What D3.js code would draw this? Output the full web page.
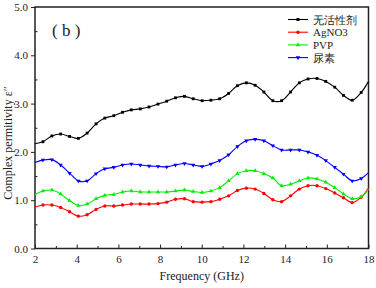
<!DOCTYPE html>
<html>
<head>
<meta charset="utf-8">
<script src="https://cdn.jsdelivr.net/npm/d3@7/dist/d3.min.js"></script>
<style>
  body { margin: 0; background: #fff; }
  svg text { font-family: "Times New Roman", "Liberation Serif", "DejaVu Serif", serif; fill: #222; }
</style>
</head>
<body>
<svg id="chart" width="376" height="288"></svg>
<script>
// frequency points (GHz)
var freq = [2, 2.38, 2.81, 3.23, 3.66, 4.08, 4.50, 4.93, 5.35, 5.78, 6.20, 6.62, 7.05, 7.47,
  7.90, 8.32, 8.74, 9.17, 9.59, 10.02, 10.44, 10.86, 11.29, 11.71, 12.14, 12.56, 12.98,
  13.41, 13.83, 14.26, 14.68, 15.10, 15.53, 15.95, 16.38, 16.80, 17.22, 17.65, 18]

var noSurfactant = [2.17, 2.21, 2.33, 2.37, 2.32, 2.28, 2.39, 2.58, 2.70, 2.75, 2.82, 2.87, 2.89, 2.93,
  2.99, 3.05, 3.12, 3.15, 3.10, 3.06, 3.07, 3.10, 3.21, 3.37, 3.43, 3.38, 3.24,
  3.06, 3.06, 3.24, 3.43, 3.51, 3.52, 3.46, 3.34, 3.17, 3.07, 3.23, 3.46]
var agno3 = [0.86, 0.90, 0.90, 0.85, 0.76, 0.67, 0.70, 0.81, 0.88, 0.88, 0.90, 0.92, 0.92, 0.92,
  0.93, 0.96, 1.02, 1.03, 0.97, 0.96, 0.97, 1.02, 1.09, 1.20, 1.25, 1.23, 1.14,
  1.01, 0.97, 1.09, 1.23, 1.30, 1.30, 1.24, 1.15, 1.05, 0.95, 1.06, 1.25]
var pvp = [1.12, 1.19, 1.21, 1.13, 0.99, 0.89, 0.92, 1.03, 1.10, 1.12, 1.17, 1.19, 1.17, 1.17,
  1.17, 1.17, 1.19, 1.21, 1.18, 1.16, 1.19, 1.26, 1.40, 1.55, 1.61, 1.61, 1.55,
  1.46, 1.30, 1.33, 1.40, 1.46, 1.44, 1.37, 1.26, 1.13, 1.03, 1.07, 1.23]
var urea = [1.78, 1.83, 1.84, 1.73, 1.56, 1.40, 1.40, 1.55, 1.65, 1.68, 1.73, 1.75, 1.73, 1.71,
  1.70, 1.69, 1.73, 1.76, 1.73, 1.70, 1.75, 1.82, 1.94, 2.11, 2.23, 2.26, 2.23,
  2.13, 2.04, 2.04, 2.04, 2.00, 1.93, 1.82, 1.68, 1.54, 1.40, 1.45, 1.57]

var seriesNames = ['无活性剂', 'AgNO3', 'PVP', '尿素']
var seriesColors = ['#000000', '#ff0000', '#00ee00', '#0000ff']
var seriesSymbols = [d3.symbolSquare, d3.symbolCircle, d3.symbolTriangle, d3.symbolTriangle]
var xTicks = [2, 4, 6, 8, 10, 12, 14, 16, 18]
var yTicks = [0, 1, 2, 3, 4, 5]

var allSeries = [noSurfactant, agno3, pvp, urea]

var serif = '"Times New Roman", "Liberation Serif", "DejaVu Serif", serif'
var margin = {left: 35, right: 7.5, top: 7, bottom: 39.5}
var width = 376, height = 288

var svg = d3.select('#chart')

var x = d3.scaleLinear().domain([2, 18]).range([margin.left, width - margin.right])
var y = d3.scaleLinear().domain([0, 5]).range([height - margin.bottom, margin.top])

// minor ticks
svg.append('g')
  .attr('transform', 'translate(0,' + y(0) + ')')
  .call(d3.axisBottom(x).tickValues(d3.range(3, 18, 2)).tickSize(-2.5).tickFormat(''))
  .call(function(g) { g.select('.domain').remove() })
svg.append('g')
  .attr('transform', 'translate(' + x(2) + ',0)')
  .call(d3.axisLeft(y).tickValues(d3.range(0.5, 5, 1)).tickSize(-2.5).tickFormat(''))
  .call(function(g) { g.select('.domain').remove() })

var xAxis = svg.append('g')
  .attr('transform', 'translate(0,' + y(0) + ')')
  .call(d3.axisBottom(x).tickValues(xTicks).tickSize(-4).tickPadding(7))
var yAxis = svg.append('g')
  .attr('transform', 'translate(' + x(2) + ',0)')
  .call(d3.axisLeft(y).tickValues(yTicks).tickSize(4).tickPadding(3))

svg.selectAll('g').attr('font-family', serif)
svg.selectAll('.tick text').attr('font-family', serif).style('font-size', '11px').attr('fill', '#111')
svg.selectAll('.tick line').attr('stroke', '#222')
svg.selectAll('.domain').remove()

// frame
svg.append('rect')
  .attr('x', x(2)).attr('y', y(5))
  .attr('width', x(18) - x(2)).attr('height', y(0) - y(5))
  .attr('fill', 'none').attr('stroke', '#222').attr('stroke-width', 1.5)

var line = d3.line().curve(d3.curveCatmullRom.alpha(0.5))
  .x(function(d, i) { return x(freq[i]) })
  .y(function(d) { return y(d) })

allSeries.forEach(function(vals, s) {
  svg.append('path')
    .datum(vals)
    .attr('d', line)
    .attr('fill', 'none')
    .attr('stroke', seriesColors[s])
    .attr('stroke-width', 1.1)

  var sym = d3.symbol().type(seriesSymbols[s]).size(s == 1 ? 9 : 8)
  svg.append('g').selectAll('path')
    .data(vals.slice(1, -1))
    .enter()
    .append('path')
    .attr('d', sym)
    .attr('fill', seriesColors[s])
    .attr('transform', function(d, i) {
      var rot = s == 3 ? ' rotate(180)' : ''
      return 'translate(' + x(freq[i + 1]) + ',' + y(d) + ')' + rot
    })
})

// legend
var legend = svg.append('g')
seriesNames.forEach(function(name, s) {
  var ly = 19.5 + s * 12.7
  legend.append('line')
    .attr('x1', 288).attr('x2', 308).attr('y1', ly).attr('y2', ly)
    .attr('stroke', seriesColors[s]).attr('stroke-width', 1.1)
  legend.append('path')
    .attr('d', d3.symbol().type(seriesSymbols[s]).size(9))
    .attr('fill', seriesColors[s])
    .attr('transform', 'translate(298,' + ly + ')' + (s == 3 ? ' rotate(180)' : ''))
  legend.append('text')
    .attr('x', 313).attr('y', ly + 4)
    .attr('font-family', serif)
    .style('font-size', '11px')
    .text(name)
})

// panel label
svg.append('text')
  .attr('x', 52).attr('y', 36)
  .attr('font-family', serif)
  .style('font-size', '17px')
  .text('( b )')

// axis titles
svg.append('text')
  .attr('x', x(10)).attr('y', 280)
  .attr('text-anchor', 'middle')
  .attr('font-family', serif)
  .style('font-size', '12px')
  .text('Frequency (GHz)')

svg.append('text')
  .attr('transform', 'translate(12,' + 143 + ') rotate(-90)')
  .attr('text-anchor', 'middle')
  .attr('font-family', serif)
  .style('font-size', '12px')
  .text('Complex permitivity ε\u2033')
</script>
</body>
</html>
